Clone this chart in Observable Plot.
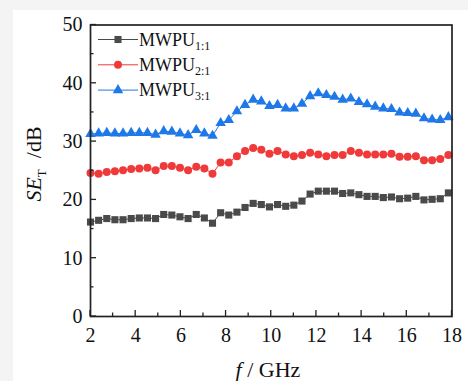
<!DOCTYPE html>
<html>
<head>
<meta charset="utf-8">
<script src="https://cdn.jsdelivr.net/npm/d3@7"></script>
<script src="https://cdn.jsdelivr.net/npm/@observablehq/plot@0.6"></script>
<style>
  html, body { margin: 0; padding: 0; background: #f4f4f4; width: 468px; height: 381px; overflow: hidden; }
  #chart { position: absolute; left: 13px; top: 10px; background: #ffffff; }
  #chart svg { display: block; background: #ffffff; }
</style>
</head>
<body>
<div id="chart"></div>
<script>
// Frequency (GHz)
const freq = [2, 2.36, 2.72, 3.08, 3.44, 3.8, 4.16, 4.52, 4.88, 5.24, 5.6, 5.96, 6.32, 6.68, 7.04, 7.4, 7.76, 8.12, 8.48, 8.84, 9.2, 9.56, 9.92, 10.28, 10.64, 11, 11.36, 11.72, 12.08, 12.44, 12.8, 13.16, 13.52, 13.88, 14.24, 14.6, 14.96, 15.32, 15.68, 16.04, 16.4, 16.76, 17.12, 17.48, 17.84];
// SE_T (dB)
const mwpu11 = [16.2, 16.5, 16.8, 16.6, 16.6, 16.8, 16.9, 16.9, 16.8, 17.5, 17.4, 17.1, 16.8, 17.5, 16.9, 16.0, 17.8, 17.4, 17.9, 18.7, 19.4, 19.2, 18.8, 19.2, 18.9, 19.1, 19.8, 21.0, 21.5, 21.5, 21.5, 21.1, 21.2, 20.9, 20.6, 20.6, 20.4, 20.5, 20.2, 20.3, 20.6, 20.0, 20.1, 20.2, 21.2];
const mwpu21 = [24.6, 24.5, 24.8, 24.9, 25.1, 25.3, 25.4, 25.5, 25.1, 25.8, 25.8, 25.5, 25.1, 25.7, 25.4, 24.5, 26.4, 26.4, 27.5, 28.4, 28.9, 28.6, 27.9, 28.4, 27.8, 27.5, 27.7, 28.1, 27.8, 27.5, 27.7, 27.7, 28.4, 28.1, 27.8, 27.8, 27.8, 27.9, 27.4, 27.4, 27.5, 26.8, 26.8, 27.0, 27.7];
const mwpu31 = [31.3, 31.4, 31.5, 31.4, 31.4, 31.5, 31.5, 31.5, 31.2, 31.8, 31.7, 31.4, 31.1, 32.0, 31.4, 31.0, 33.2, 33.7, 35.2, 36.3, 37.2, 36.9, 36.1, 36.3, 35.7, 35.7, 36.5, 37.8, 38.3, 38.0, 37.7, 37.2, 37.4, 36.8, 36.4, 36.0, 35.7, 35.6, 35.0, 34.9, 34.8, 34.0, 33.8, 33.7, 34.2];

const seriesNames = ["1:1", "2:1", "3:1"];
const seriesValues = [mwpu11, mwpu21, mwpu31];
const seriesColors = ["#4a4a4a", "#f03a3a", "#1f78e8"];
const seriesSymbols = ["square", "circle", "triangle"];

const xTicks = [2, 4, 6, 8, 10, 12, 14, 16, 18];
const xMinor = [3, 5, 7, 9, 11, 13, 15, 17];
const yTicks = [0, 10, 20, 30, 40, 50];
const yMinor = [5, 15, 25, 35, 45];

const rows = [];
seriesNames.forEach((name, s) => {
  freq.forEach((f, i) => rows.push({series: name, f, v: seriesValues[s][i]}));
});

const FONT = "'Liberation Serif', 'Times New Roman', serif";

const marks = [];
seriesNames.forEach((name, s) => {
  const d = rows.filter(r => r.series === name);
  marks.push(Plot.line(d, {x: "f", y: "v", stroke: seriesColors[s], strokeWidth: 1}));
  marks.push(Plot.dot(d, {x: "f", y: "v", fill: seriesColors[s], stroke: "none", symbol: () => seriesSymbols[s], r: s === 2 ? 3.9 : 4}));
});

const plot = Plot.plot({
  width: 455,
  height: 371,
  marginLeft: 77,
  marginRight: 16.5,
  marginTop: 14.5,
  marginBottom: 65,
  style: {fontFamily: FONT, fontSize: "20px", color: "#111", background: "#ffffff"},
  x: {domain: [2, 18]},
  y: {domain: [0, 50]},
  symbol: {type: "identity"},
  marks: [
    ...marks,
    Plot.axisX({ticks: xTicks, tickSize: 0, tickPadding: 11, label: null, fontSize: 20, tickFormat: d => String(d)}),
    Plot.axisY({ticks: yTicks, tickSize: 0, tickPadding: 8, label: null, fontSize: 20, tickFormat: d => String(d)}),
    Plot.frame({stroke: "#222", strokeWidth: 1.7})
  ]
});

document.getElementById("chart").appendChild(plot);

// inward ticks via the plot's own scales
const sx = plot.scale("x"), sy = plot.scale("y");
const svg = d3.select(plot);
const yBottom = sy.apply(0), xLeft = sx.apply(2);
const g = svg.append("g").attr("stroke", "#222").attr("stroke-width", 1.3);
xTicks.forEach(t => g.append("line").attr("x1", sx.apply(t)).attr("x2", sx.apply(t)).attr("y1", yBottom).attr("y2", yBottom - 6));
xMinor.forEach(t => g.append("line").attr("x1", sx.apply(t)).attr("x2", sx.apply(t)).attr("y1", yBottom).attr("y2", yBottom - 3.5));
yTicks.forEach(t => g.append("line").attr("y1", sy.apply(t)).attr("y2", sy.apply(t)).attr("x1", xLeft).attr("x2", xLeft + 6));
yMinor.forEach(t => g.append("line").attr("y1", sy.apply(t)).attr("y2", sy.apply(t)).attr("x1", xLeft).attr("x2", xLeft + 3.5));

// axis titles
const xt = svg.append("text").attr("x", 255).attr("y", 367).attr("text-anchor", "middle")
  .attr("font-family", FONT).attr("font-size", 22).attr("fill", "#111");
xt.append("tspan").attr("font-style", "italic").text("f");
xt.append("tspan").text(" / GHz");

const yt = svg.append("text").attr("transform", "translate(28,154) rotate(-90)").attr("text-anchor", "middle")
  .attr("font-family", FONT).attr("font-size", 22).attr("fill", "#111");
yt.append("tspan").attr("font-style", "italic").text("SE");
yt.append("tspan").attr("font-size", 13).attr("dy", 5).text("T");
yt.append("tspan").attr("dy", -5).text("  /dB").attr("xml:space", "preserve").style("white-space", "pre");

// legend
const sym = {square: d3.symbolSquare, circle: d3.symbolCircle, triangle: d3.symbolTriangle};
const leg = svg.append("g");
seriesNames.forEach((name, s) => {
  const cy = 29.5 + s * 25.3;
  leg.append("line").attr("x1", 85).attr("x2", 125).attr("y1", cy).attr("y2", cy)
    .attr("stroke", seriesColors[s]).attr("stroke-width", 1);
  const r = s === 2 ? 3.9 : 4;
  leg.append("path").attr("d", d3.symbol(sym[seriesSymbols[s]], Math.PI * r * r)())
    .attr("transform", `translate(105,${cy})`).attr("fill", seriesColors[s]);
  const t = leg.append("text").attr("x", 126).attr("y", cy + 6).attr("text-anchor", "start")
    .attr("font-family", FONT).attr("font-size", 18).attr("fill", "#111");
  t.append("tspan").text("MWPU");
  t.append("tspan").attr("font-size", 12).attr("dy", 4).text(name);
});
</script>
</body>
</html>
